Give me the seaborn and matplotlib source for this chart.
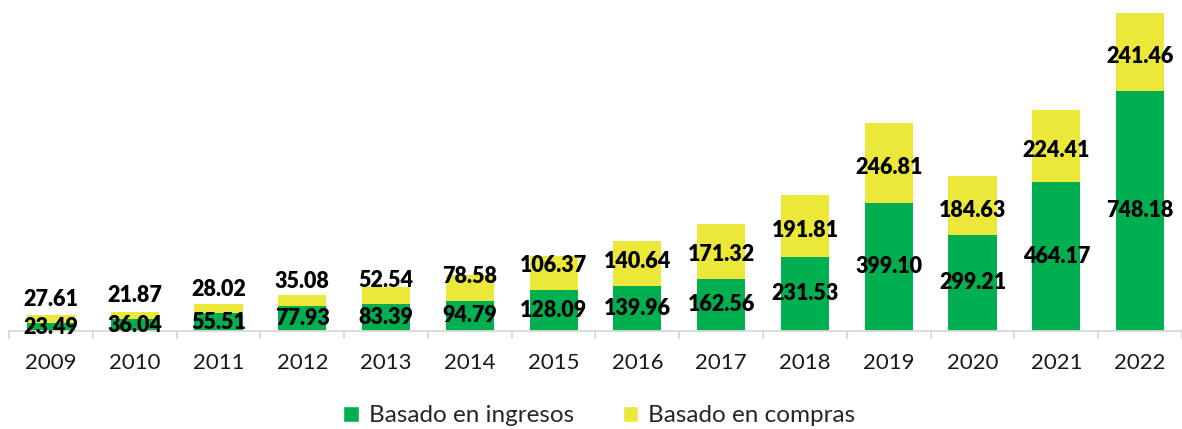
import matplotlib
matplotlib.use("Agg")
import matplotlib.pyplot as plt
from matplotlib.patches import Patch
from matplotlib.ticker import FixedLocator
import seaborn as sns
import pandas as pd

# data
years = ['2009', '2010', '2011', '2012', '2013', '2014', '2015',
         '2016', '2017', '2018', '2019', '2020', '2021', '2022']
ingresos = [23.49, 36.04, 55.51, 77.93, 83.39, 94.79, 128.09,
            139.96, 162.56, 231.53, 399.10, 299.21, 464.17, 748.18]
compras = [27.61, 21.87, 28.02, 35.08, 52.54, 78.58, 106.37,
           140.64, 171.32, 191.81, 246.81, 184.63, 224.41, 241.46]

green = '#00B050'
yellow = '#EBE83A'

sns.set_style("white")
plt.rcParams['font.family'] = ['Lato', 'DejaVu Sans']

df = pd.DataFrame({'year': years, 'ingresos': ingresos, 'compras': compras})
df['total'] = df['ingresos'] + df['compras']

fig = plt.figure(figsize=(11.82, 4.29), dpi=100)
ax = fig.add_axes([9 / 1182, 98 / 429, 1173 / 1182, 331 / 429])

# stacked: draw totals in yellow, then the green part over it
sns.barplot(data=df, x='year', y='total', color=yellow, width=0.575,
            saturation=1, linewidth=0, ax=ax)
sns.barplot(data=df, x='year', y='ingresos', color=green, width=0.575,
            saturation=1, linewidth=0, ax=ax)

for i, row in df.iterrows():
    ax.text(i, row['ingresos'] / 2, f"{row['ingresos']:.2f}", ha='center',
            va='center', fontsize=15.5, fontweight='heavy', color='black')
    y_c = max(row['ingresos'] + row['compras'] / 2 - 15, row['ingresos'] + 75)
    ax.text(i, y_c, f"{row['compras']:.2f}", ha='center',
            va='center', fontsize=15.5, fontweight='heavy', color='black')

ax.set_xlim(-0.5, len(years) - 0.5)
ax.set_ylim(0, 1030)
ax.set_xlabel('')
ax.set_ylabel('')
ax.set_yticks([])
for s in ['top', 'right', 'left']:
    ax.spines[s].set_visible(False)
ax.spines['bottom'].set_color('#D9D9D9')
ax.spines['bottom'].set_linewidth(1.3)
ax.xaxis.set_minor_locator(FixedLocator([i - 0.5 for i in range(len(years) + 1)]))
ax.tick_params(axis='x', which='major', length=0, pad=16, labelsize=16,
               labelcolor='#1a1a1a')
ax.tick_params(axis='x', which='minor', length=6, width=1.3, color='#D9D9D9',
               direction='out', bottom=True)

handles = [Patch(facecolor=green, label='Basado en ingresos'),
           Patch(facecolor=yellow, label='Basado en compras')]
fig.legend(handles=handles, loc='center', bbox_to_anchor=(0.507, 1 - 416 / 429),
           ncol=2, frameon=False, fontsize=17.5, handlelength=0.65,
           handleheight=0.65, handletextpad=0.4, columnspacing=2.0)

fig.savefig('out.png', dpi=100)
